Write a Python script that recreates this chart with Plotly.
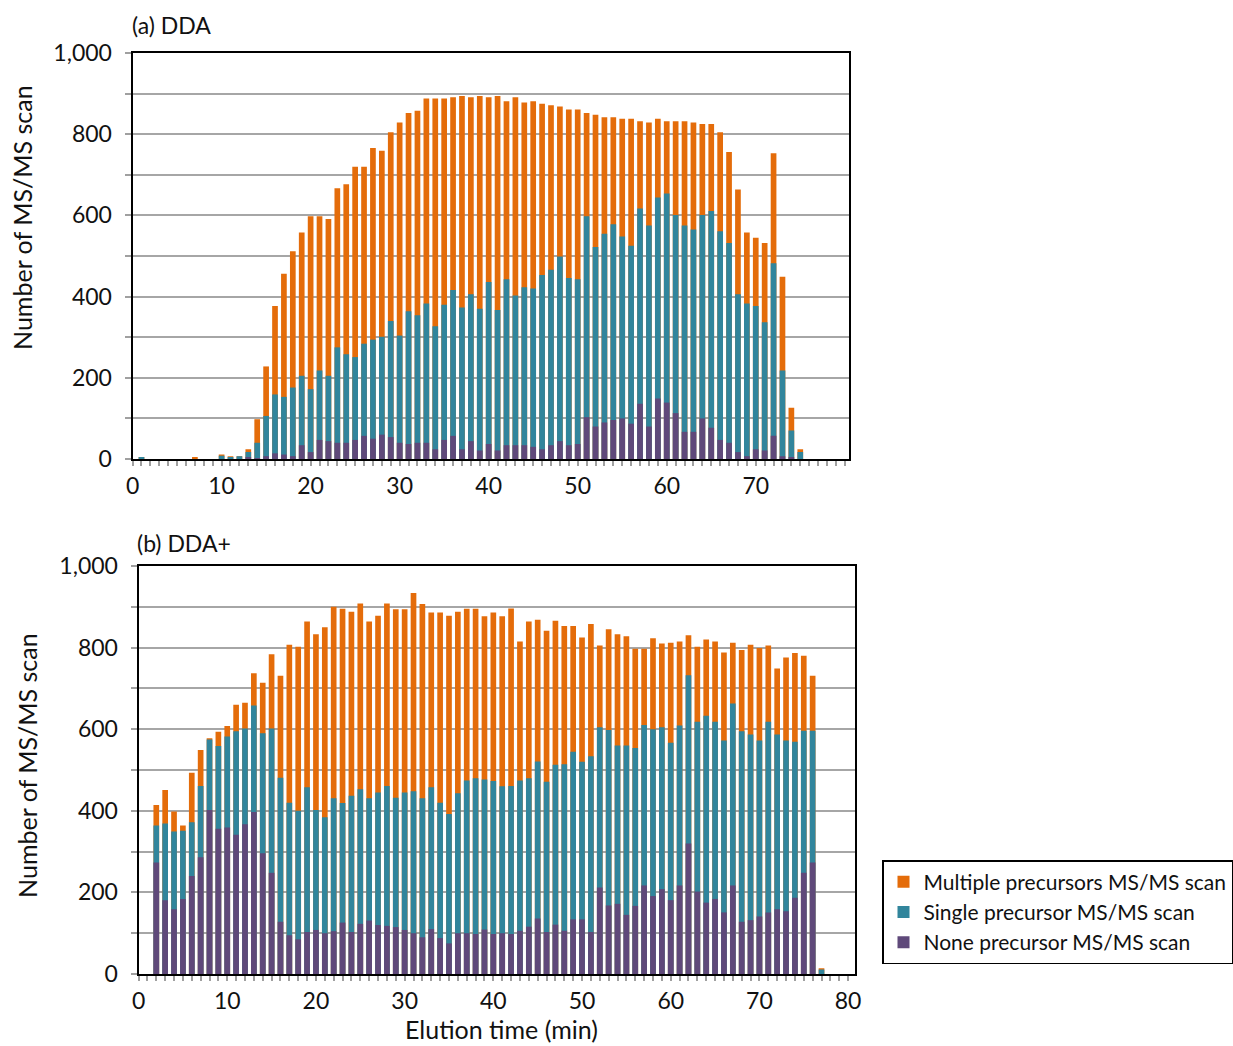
import plotly.graph_objects as go

# ---------------- data ----------------
# Panel (a) DDA : elution minute, and the top of each coloured segment (cumulative height)
minutes_a = list(range(1, 76))
total_a = [5, 0, 0, 0, 0, 0, 5, 0, 0, 11, 7, 7, 24, 98, 228, 377, 456, 512, 558, 598,
           598, 591, 667, 677, 720, 720, 766, 759, 805, 829, 852, 858, 888, 888, 888, 891, 894, 891, 894, 891,
           894, 881, 891, 878, 881, 875, 871, 868, 861, 861, 852, 848, 842, 842, 838, 838, 832, 829, 838, 832,
           832, 832, 829, 825, 825, 805, 756, 664, 558, 545, 532, 753, 449, 126, 24]
single_top_a = [5, 0, 0, 0, 0, 0, 0, 0, 0, 8, 5, 7, 17, 40, 106, 159, 153, 176, 205, 172,
                218, 205, 275, 258, 251, 284, 294, 301, 340, 304, 364, 354, 383, 327, 380, 416, 373, 406, 370, 436,
                367, 443, 403, 423, 420, 453, 466, 499, 446, 443, 598, 522, 555, 578, 548, 525, 617, 575, 644, 654,
                601, 575, 565, 601, 611, 561, 532, 406, 383, 377, 337, 482, 218, 70, 17]
none_a = [0, 0, 0, 0, 0, 0, 0, 0, 0, 0, 0, 0, 4, 2, 7, 14, 11, 7, 34, 17,
          47, 44, 40, 40, 47, 57, 50, 60, 54, 40, 37, 40, 40, 24, 47, 57, 24, 44, 21, 37,
          21, 34, 34, 34, 30, 24, 34, 44, 34, 37, 103, 80, 90, 96, 100, 87, 136, 80, 149, 139,
          113, 67, 67, 100, 77, 47, 40, 17, 7, 24, 21, 57, 7, 4, 0]

# Panel (b) DDA+
minutes_b = list(range(2, 78))
total_b = [414, 451, 398, 364, 493, 549, 578, 594, 608, 660,
           665, 737, 714, 784, 731, 807, 802, 864, 833, 850,
           900, 895, 888, 908, 864, 878, 908, 894, 894, 934,
           907, 886, 886, 878, 888, 895, 895, 877, 886, 877,
           896, 815, 864, 868, 841, 866, 853, 853, 825, 858,
           805, 845, 833, 828, 797, 797, 823, 810, 812, 815,
           830, 802, 820, 815, 788, 812, 794, 807, 799, 805,
           749, 776, 787, 780, 731, 14]
single_top_b = [364, 369, 349, 351, 372, 461, 575, 559, 582, 595,
                602, 658, 590, 602, 481, 420, 400, 458, 402, 384,
                431, 419, 437, 453, 431, 445, 461, 432, 445, 448,
                431, 458, 420, 392, 443, 474, 480, 477, 473, 460,
                461, 474, 480, 521, 471, 513, 514, 545, 520, 534,
                605, 598, 560, 560, 554, 610, 600, 605, 567, 609,
                732, 618, 633, 618, 572, 663, 595, 587, 572, 618,
                587, 572, 569, 596, 596, 11]
none_b = [273, 181, 159, 184, 240, 286, 402, 356, 359, 341,
          367, 397, 296, 248, 128, 95, 85, 103, 108, 100,
          105, 126, 103, 123, 131, 120, 118, 115, 108, 100,
          90, 110, 88, 75, 100, 100, 98, 109, 98, 100,
          98, 106, 116, 136, 103, 121, 106, 134, 134, 103,
          212, 168, 172, 145, 167, 217, 191, 208, 181, 217,
          320, 202, 175, 184, 151, 217, 128, 132, 141, 151,
          159, 154, 187, 248, 273, 0]

series_names = ["Multiple precursors MS/MS scan", "Single precursor MS/MS scan", "None precursor MS/MS scan"]
series_colors = ["#E46C0A", "#31859C", "#5F497A"]

y_tickvals = [0, 100, 200, 300, 400, 500, 600, 700, 800, 900, 1000]
y_ticktext = ["0", "", "200", "", "400", "", "600", "", "800", "", "1,000"]
x_tickvals = list(range(0, 81))
x_ticktext_a = [str(v) if v % 10 == 0 and v < 80 else "" for v in x_tickvals]
x_ticktext_b = [str(v) if v % 10 == 0 else "" for v in x_tickvals]

FONT = "Lato"
TXT = "#111"
W, H = 1233, 1046

fig = go.Figure()
for name, color, vals in zip(series_names, series_colors, [total_a, single_top_a, none_a]):
    fig.add_trace(go.Bar(x=minutes_a, y=vals, name=name, marker=dict(color=color, line=dict(width=0)),
                         xaxis="x", yaxis="y", showlegend=True))
for name, color, vals in zip(series_names, series_colors, [total_b, single_top_b, none_b]):
    fig.add_trace(go.Bar(x=minutes_b, y=vals, name=name, marker=dict(color=color, line=dict(width=0)),
                         xaxis="x2", yaxis="y2", showlegend=False))

def xax(domain, rng, ticktext, anchor):
    return dict(domain=domain, range=rng, anchor=anchor, tickmode="array", tickvals=x_tickvals,
                ticktext=ticktext, ticks="outside", ticklen=5, tickwidth=1.5, tickcolor="#A0A0A0",
                showline=True, linecolor="black", linewidth=2, mirror=True, showgrid=False,
                zeroline=False, tickfont=dict(family=FONT, size=23, color=TXT), automargin=False)

def yax(domain, anchor):
    return dict(domain=domain, range=[0, 1000], anchor=anchor, tickmode="array", tickvals=y_tickvals,
                ticktext=y_ticktext, ticks="outside", ticklen=6, tickwidth=1.5, tickcolor="#A0A0A0",
                showline=True, linecolor="black", linewidth=2, mirror=True, showgrid=True,
                gridcolor="#A6A6A6", gridwidth=1.5, zeroline=False, automargin=False,
                ticklabelstandoff=8,
                tickfont=dict(family=FONT, size=23, color=TXT))

def txt(text, x, y, size, xanchor="left", angle=0):
    return dict(text=text, x=x / W, y=1 - y / H, xref="paper", yref="paper", xanchor=xanchor,
                yanchor="middle", showarrow=False, textangle=angle,
                font=dict(family=FONT, size=size, color=TXT))

fig.update_layout(
    width=W, height=H, margin=dict(l=0, r=0, t=0, b=0),
    paper_bgcolor="white", plot_bgcolor="white",
    barmode="overlay", bargap=0.36,
    font=dict(family=FONT, color=TXT),
    xaxis=xax([133 / W, 852 / W], [0, 80.5], x_ticktext_a, "y"),
    yaxis=yax([1 - 459 / H, 1 - 53 / H], "x"),
    xaxis2=xax([139 / W, 858 / W], [0, 80.8], x_ticktext_b, "y2"),
    yaxis2=yax([1 - 974 / H, 1 - 566 / H], "x2"),
    legend=dict(x=885 / W, y=1 - 860 / H, xanchor="left", yanchor="top",
                bordercolor="black", borderwidth=1.5, bgcolor="white",
                font=dict(family=FONT, size=21, color=TXT), traceorder="normal"),
    annotations=[
        txt("(a) DDA", 130, 25, 23),
        txt("(b) DDA+", 135, 543, 23),
        txt("Elution time (min)", 503, 1029, 25, xanchor="center"),
        dict(txt("Number of MS/MS scan", 22, 217, 25, xanchor="center", angle=-90)),
        dict(txt("Number of MS/MS scan", 27, 765, 25, xanchor="center", angle=-90)),
    ],
)

fig.write_html("out.html")
